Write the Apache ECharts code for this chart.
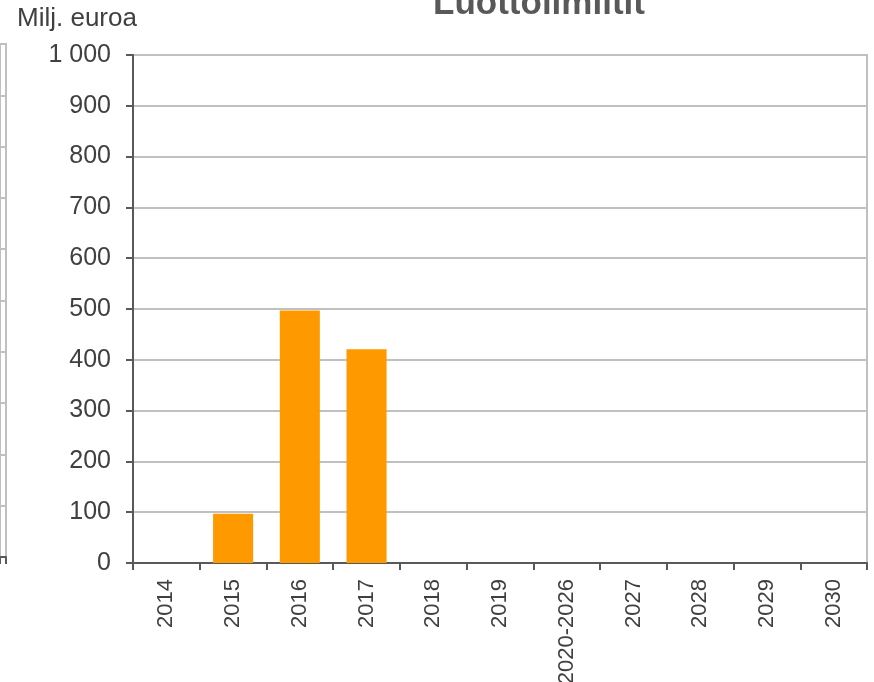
<!DOCTYPE html>
<html>
<head>
<meta charset="utf-8">
<script src="https://cdn.jsdelivr.net/npm/echarts@6/dist/echarts.min.js"></script>
<style>html,body{margin:0;padding:0;background:#fff;}#c{width:874px;height:682px;}</style>
</head>
<body>
<div id="c"></div>
<script>
var categories = ['2014','2015','2016','2017','2018','2019','2020-2026','2027','2028','2029','2030'];
var limitValues = [0, 97, 497, 421, 0, 0, 0, 0, 0, 0, 0];
var yTicks = {min: 0, max: 1000, interval: 100};
var leftCategories = [''];
var leftValues = [null];

var FONT = "'Liberation Sans', Arial, sans-serif";
var chart = echarts.init(document.getElementById('c'));
chart.setOption({
  animation: false,
  backgroundColor: '#fff',
  textStyle: {fontFamily: FONT},
  title: [
    {text: 'Luottolimiitit', left: 534, textAlign: 'center', top: -18,
     textStyle: {fontFamily: FONT, fontSize: 35, fontWeight: 'bold', color: '#595959'}},
    {text: 'Milj. euroa', left: 12, top: 1,
     textStyle: {fontFamily: FONT, fontSize: 26, fontWeight: 'normal', color: '#404040'}}
  ],
  grid: [
    {left: 133, right: 7, top: 55, bottom: 119, show: true, borderColor: '#c0c0c0', borderWidth: 2,
     containLabel: false, outerBoundsMode: 'none'},
    {left: 0, right: 868, top: 44, bottom: 125, show: true, borderColor: '#c0c0c0', borderWidth: 2,
     containLabel: false, outerBoundsMode: 'none'}
  ],
  xAxis: [
    {type: 'category', gridIndex: 0, data: categories,
     axisLine: {lineStyle: {color: '#595959', width: 2}},
     axisTick: {show: true, length: 7, lineStyle: {color: '#595959', width: 2}},
     axisLabel: {rotate: 90, margin: 16, fontSize: 22, color: '#404040', fontFamily: FONT, interval: 0}},
    {type: 'category', gridIndex: 1, data: leftCategories,
     axisLine: {lineStyle: {color: '#595959', width: 2}},
     axisTick: {show: true, length: 7, lineStyle: {color: '#595959', width: 2}},
     axisLabel: {show: false}}
  ],
  yAxis: [
    {type: 'value', gridIndex: 0, min: yTicks.min, max: yTicks.max, interval: yTicks.interval,
     axisLine: {show: true, lineStyle: {color: '#595959', width: 2}},
     axisTick: {show: true, length: 7, lineStyle: {color: '#595959', width: 2}},
     splitLine: {show: true, lineStyle: {color: '#c0c0c0', width: 2}},
     axisLabel: {margin: 22, fontSize: 25, color: '#404040', fontFamily: FONT,
       formatter: function (v) { return String(v).replace(/\B(?=(\d{3})+(?!\d))/g, ' '); }}},
    {type: 'value', gridIndex: 1, min: yTicks.min, max: yTicks.max, interval: yTicks.interval,
     axisLine: {show: false}, axisTick: {show: false}, axisLabel: {show: false},
     splitLine: {show: true, lineStyle: {color: '#c0c0c0', width: 2}}}
  ],
  series: [
    {type: 'bar', xAxisIndex: 0, yAxisIndex: 0, data: limitValues, barCategoryGap: '40%',
     itemStyle: {color: '#FF9900'}},
    {type: 'bar', xAxisIndex: 1, yAxisIndex: 1, data: leftValues,
     itemStyle: {color: '#FF9900'}}
  ]
});
</script>
</body>
</html>
